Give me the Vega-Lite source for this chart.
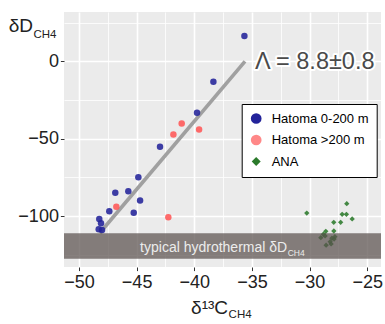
{
  "$schema": "https://vega.github.io/schema/vega-lite/v6.json",
  "width": 317,
  "height": 255,
  "autosize": {"type": "none"},
  "padding": {"left": 64, "top": 12, "right": 4, "bottom": 57},
  "background": "white",
  "config": {
    "view": {"fill": "#ebebeb", "stroke": null},
    "font": "Liberation Sans",
    "axis": {"labelFont": "Liberation Sans", "labelFontSize": 18, "labelColor": "#222222", "tickColor": "#333333", "tickSize": 3.6, "tickWidth": 1, "domain": false, "gridColor": "white", "title": null}
  },
  "datasets": {
    "pts": [
      {"group": "Hatoma 0-200 m", "d13C": -35.65, "dD": 16.5},
      {"group": "Hatoma 0-200 m", "d13C": -38.34, "dD": -13.2},
      {"group": "Hatoma 0-200 m", "d13C": -39.76, "dD": -33.2},
      {"group": "Hatoma 0-200 m", "d13C": -42.97, "dD": -55.2},
      {"group": "Hatoma 0-200 m", "d13C": -44.85, "dD": -75.0},
      {"group": "Hatoma 0-200 m", "d13C": -46.85, "dD": -84.9},
      {"group": "Hatoma 0-200 m", "d13C": -45.72, "dD": -84.0},
      {"group": "Hatoma 0-200 m", "d13C": -44.70, "dD": -89.9},
      {"group": "Hatoma 0-200 m", "d13C": -47.37, "dD": -97.0},
      {"group": "Hatoma 0-200 m", "d13C": -45.25, "dD": -97.9},
      {"group": "Hatoma 0-200 m", "d13C": -48.24, "dD": -101.9},
      {"group": "Hatoma 0-200 m", "d13C": -48.09, "dD": -104.7},
      {"group": "Hatoma 0-200 m", "d13C": -48.29, "dD": -108.6},
      {"group": "Hatoma 0-200 m", "d13C": -48.0, "dD": -109.0},
      {"group": "Hatoma >200 m", "d13C": -41.09, "dD": -40.1},
      {"group": "Hatoma >200 m", "d13C": -41.81, "dD": -47.2},
      {"group": "Hatoma >200 m", "d13C": -39.58, "dD": -44.0},
      {"group": "Hatoma >200 m", "d13C": -46.76, "dD": -94.0},
      {"group": "Hatoma >200 m", "d13C": -42.25, "dD": -100.8},
      {"group": "ANA", "d13C": -30.24, "dD": -98.1},
      {"group": "ANA", "d13C": -26.77, "dD": -92.0},
      {"group": "ANA", "d13C": -27.17, "dD": -98.9},
      {"group": "ANA", "d13C": -26.8, "dD": -98.9},
      {"group": "ANA", "d13C": -26.3, "dD": -101.9},
      {"group": "ANA", "d13C": -27.9, "dD": -104.1},
      {"group": "ANA", "d13C": -27.3, "dD": -104.1},
      {"group": "ANA", "d13C": -28.59, "dD": -109.9},
      {"group": "ANA", "d13C": -27.89, "dD": -109.7},
      {"group": "ANA", "d13C": -28.8, "dD": -111.8},
      {"group": "ANA", "d13C": -29.02, "dD": -114.0},
      {"group": "ANA", "d13C": -28.65, "dD": -112.9},
      {"group": "ANA", "d13C": -28.06, "dD": -114.4},
      {"group": "ANA", "d13C": -27.8, "dD": -113.4},
      {"group": "ANA", "d13C": -28.21, "dD": -116.6},
      {"group": "ANA", "d13C": -28.56, "dD": -118.9},
      {"group": "ANA", "d13C": -28.13, "dD": -118.1},
      {"group": "ANA", "d13C": -27.87, "dD": -114.9}
    ],
    "fit": [
      {"d13C": -48.2, "dD": -111},
      {"d13C": -35.6, "dD": 0}
    ],
    "band": [
      {"x1": -51.3, "x2": -23.8, "y1": -111.1, "y2": -127.6}
    ],
    "labels": [
      {"d13C": -31.94, "dD": -123.0, "txt": "typical hydrothermal δD", "kind": "bandmain"},
      {"d13C": -31.90, "dD": -125.8, "txt": "CH4", "kind": "bandsub"},
      {"d13C": -37.07, "dD": -163.5, "txt": "δ¹³C", "kind": "xmain"},
      {"d13C": -37.02, "dD": -166.1, "txt": "CH4", "kind": "xsub"},
      {"d13C": -53.99, "dD": 19.3, "txt": "δD", "kind": "ymain"},
      {"d13C": -53.95, "dD": 15.0, "txt": "CH4", "kind": "ysub"}
    ],
    "lambda": [
      {"d13C": -34.72, "dD": -5.0, "txt": "Λ = 8.8±0.8"}
    ]
  },
  "resolve": {"axis": {"x": "independent", "y": "independent"}},
  "layer": [
    {
      "data": {"name": "band"},
      "mark": {"type": "rect", "opacity": 0},
      "encoding": {
        "x": {"field": "x1", "type": "quantitative", "scale": {"domain": [-51.3, -23.8], "nice": false, "zero": false},
              "axis": {"orient": "top", "values": [-47.5, -42.5, -37.5, -32.5, -27.5], "grid": true, "gridWidth": 0.8, "labels": false, "ticks": false, "domain": false}},
        "x2": {"field": "x2"},
        "y": {"field": "y1", "type": "quantitative", "scale": {"domain": [-133, 32], "nice": false, "zero": false},
              "axis": {"orient": "right", "values": [-125, -75, -25, 25], "grid": true, "gridWidth": 0.8, "labels": false, "ticks": false, "domain": false}},
        "y2": {"field": "y2"}
      }
    },
    {
      "data": {"name": "fit"},
      "mark": {"type": "line", "color": "#a0a0a0", "strokeWidth": 3.6, "strokeCap": "butt"},
      "encoding": {
        "x": {"field": "d13C", "type": "quantitative", "axis": null},
        "y": {"field": "dD", "type": "quantitative", "axis": null}
      }
    },
    {
      "data": {"name": "pts"},
      "mark": {"type": "point", "filled": true, "opacity": 0.88, "strokeWidth": 0.6},
      "encoding": {
        "x": {"field": "d13C", "type": "quantitative",
              "axis": {"orient": "bottom", "values": [-50, -45, -40, -35, -30, -25], "grid": true, "gridWidth": 1.6, "labelPadding": 3, "format": "d"}},
        "y": {"field": "dD", "type": "quantitative",
              "axis": {"orient": "left", "values": [-100, -50, 0], "grid": true, "gridWidth": 1.6, "labelPadding": 2, "format": "d"}},
        "color": {"field": "group", "type": "nominal",
                  "scale": {"domain": ["Hatoma 0-200 m", "Hatoma >200 m", "ANA"], "range": ["#23239a", "#ff5656", "#2b7a2b"]},
                  "legend": {"title": null, "orient": "none", "legendX": 177.7, "legendY": 92,
                             "fillColor": "white", "strokeColor": "black", "padding": 8, "rowPadding": 7.5,
                             "labelFont": "Liberation Sans", "labelFontSize": 13, "labelColor": "black", "labelOffset": 9,
                             "symbolSize": 115, "symbolOpacity": 1,
                             "encode": {"symbols": {"update": {
                               "size": {"signal": "datum.label == 'ANA' ? 80 : 115"},
                               "fillOpacity": {"signal": "datum.label == 'Hatoma >200 m' ? 0.7 : 1"},
                               "opacity": {"value": 1},
                               "strokeWidth": {"value": 1}
                             }}}}},
        "shape": {"field": "group", "type": "nominal",
                  "scale": {"domain": ["Hatoma 0-200 m", "Hatoma >200 m", "ANA"], "range": ["circle", "circle", "diamond"]}},
        "size": {"condition": {"test": "datum.group == 'ANA'", "value": 28}, "value": 42}
      }
    },
    {
      "data": {"name": "band"},
      "mark": {"type": "rect", "color": "#5a504d", "opacity": 0.72},
      "encoding": {
        "x": {"field": "x1", "type": "quantitative", "axis": null},
        "x2": {"field": "x2"},
        "y": {"field": "y1", "type": "quantitative", "axis": null},
        "y2": {"field": "y2"}
      }
    },
    {
      "data": {"name": "labels"},
      "transform": [{"filter": "datum.kind == 'bandmain'"}],
      "mark": {"type": "text", "align": "right", "baseline": "alphabetic", "font": "Liberation Sans", "fontSize": 14, "color": "#ececec"},
      "encoding": {
        "x": {"field": "d13C", "type": "quantitative", "axis": null},
        "y": {"field": "dD", "type": "quantitative", "axis": null},
        "text": {"field": "txt"}
      }
    },
    {
      "data": {"name": "labels"},
      "transform": [{"filter": "datum.kind == 'bandsub'"}],
      "mark": {"type": "text", "align": "left", "baseline": "alphabetic", "font": "Liberation Sans", "fontSize": 8.5, "color": "#ececec"},
      "encoding": {
        "x": {"field": "d13C", "type": "quantitative", "axis": null},
        "y": {"field": "dD", "type": "quantitative", "axis": null},
        "text": {"field": "txt"}
      }
    },
    {
      "data": {"name": "labels"},
      "transform": [{"filter": "datum.kind == 'xmain' || datum.kind == 'ymain'"}],
      "mark": {"type": "text", "align": "right", "baseline": "alphabetic", "font": "Liberation Sans", "fontSize": 19, "color": "#222222"},
      "encoding": {
        "x": {"field": "d13C", "type": "quantitative", "axis": null},
        "y": {"field": "dD", "type": "quantitative", "axis": null},
        "text": {"field": "txt"}
      }
    },
    {
      "data": {"name": "labels"},
      "transform": [{"filter": "datum.kind == 'xsub' || datum.kind == 'ysub'"}],
      "mark": {"type": "text", "align": "left", "baseline": "alphabetic", "font": "Liberation Sans", "fontSize": 11.5, "color": "#222222"},
      "encoding": {
        "x": {"field": "d13C", "type": "quantitative", "axis": null},
        "y": {"field": "dD", "type": "quantitative", "axis": null},
        "text": {"field": "txt"}
      }
    },
    {
      "data": {"name": "lambda"},
      "mark": {"type": "text", "align": "left", "baseline": "alphabetic", "font": "Liberation Sans", "fontSize": 23.5, "color": "white", "stroke": "white", "strokeWidth": 4, "strokeJoin": "round"},
      "encoding": {
        "x": {"field": "d13C", "type": "quantitative", "axis": null},
        "y": {"field": "dD", "type": "quantitative", "axis": null},
        "text": {"field": "txt"}
      }
    },
    {
      "data": {"name": "lambda"},
      "mark": {"type": "text", "align": "left", "baseline": "alphabetic", "font": "Liberation Sans", "fontSize": 23.5, "color": "#4a4a4a"},
      "encoding": {
        "x": {"field": "d13C", "type": "quantitative", "axis": null},
        "y": {"field": "dD", "type": "quantitative", "axis": null},
        "text": {"field": "txt"}
      }
    }
  ]
}
